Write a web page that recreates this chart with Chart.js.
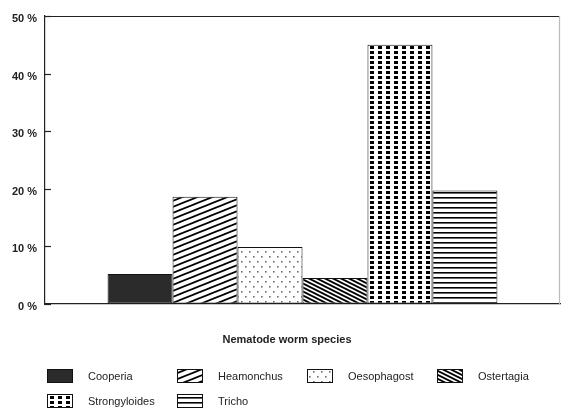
<!DOCTYPE html>
<html>
<head>
<meta charset="utf-8">
<script src="https://cdn.jsdelivr.net/npm/chart.js@4"></script>
<style>
  html, body { margin: 0; padding: 0; background: #fff; }
  #wrap { width: 561px; height: 408px; }
</style>
</head>
<body>
<div id="wrap"><canvas id="chart" width="561" height="408"></canvas></div>
<script>
const species = ["Cooperia", "Heamonchus", "Oesophagost", "Ostertagia", "Strongyloides", "Tricho"];
const shares = [5.2, 18.6, 9.9, 4.5, 45.0, 19.7];
const yTicks = [0, 10, 20, 30, 40, 50];
const xTitle = "Nematode worm species";

function makePattern(w, h, draw) {
  const c = document.createElement("canvas");
  c.width = w;
  c.height = h;
  const g = c.getContext("2d");
  g.fillStyle = "#fff";
  g.fillRect(0, 0, w, h);
  draw(g);
  return g.createPattern(c, "repeat");
}

function slanted(w, h, rise, width) {
  // lines crossing the tile, wrapping at the edges
  return makePattern(w, h, (g) => {
    g.strokeStyle = "#000";
    g.lineWidth = width;
    for (let k = -1; k <= 2; k++) {
      g.beginPath();
      if (rise) {
        g.moveTo(-2, h * k + (2 * h) / w);
        g.lineTo(w + 2, h * k - h - (2 * h) / w);
      } else {
        g.moveTo(-2, h * k - (2 * h) / w);
        g.lineTo(w + 2, h * k + h + (2 * h) / w);
      }
      g.stroke();
    }
  });
}

const fills = [
  "#2b2b2b",
  slanted(15, 6, true, 1.7),
  makePattern(8, 10, (g) => {
    g.fillStyle = "#6e6e6e";
    g.fillRect(1, 1, 1.6, 1.6);
    g.fillRect(5, 6, 1.6, 1.6);
  }),
  slanted(8, 4, false, 1.9),
  makePattern(8, 5, (g) => {
    g.fillStyle = "#000";
    g.fillRect(2, 1, 4, 3);
  }),
  makePattern(4, 5, (g) => {
    g.fillStyle = "#000";
    g.fillRect(0, 2, 4, 1.6);
  }),
];

const frameAndTicks = {
  id: "frameAndTicks",
  afterDraw(chart) {
    const ctx = chart.ctx;
    const a = chart.chartArea;
    const y = chart.scales.y;
    ctx.save();
    ctx.strokeStyle = "#222";
    ctx.lineWidth = 1.2;
    ctx.beginPath();
    ctx.moveTo(a.left, a.top + 0.5);
    ctx.lineTo(a.right, a.top + 0.5);
    ctx.stroke();
    ctx.strokeStyle = "#bbb";
    ctx.beginPath();
    ctx.moveTo(a.right - 0.5, a.top);
    ctx.lineTo(a.right - 0.5, a.bottom);
    ctx.stroke();
    // inward tick marks on the y axis
    ctx.strokeStyle = "#222";
    yTicks.forEach((v) => {
      const py = Math.round(y.getPixelForValue(v)) + 0.5;
      ctx.beginPath();
      ctx.moveTo(a.left, py);
      ctx.lineTo(a.left + 6, py);
      ctx.stroke();
    });

    // axis title
    ctx.fillStyle = "#222";
    ctx.font = "bold 11px 'Liberation Sans', Arial, sans-serif";
    ctx.textAlign = "center";
    ctx.textBaseline = "middle";
    ctx.fillText(xTitle, 287, 340);

    // legend grid, four columns
    ctx.font = "11px 'Liberation Sans', Arial, sans-serif";
    ctx.textAlign = "left";
    chart.data.datasets.forEach((ds, i) => {
      const bx = 47 + (i % 4) * 130;
      const by = 369 + Math.floor(i / 4) * 25;
      ctx.fillStyle = ds.backgroundColor;
      ctx.fillRect(bx, by, 25, 13);
      ctx.strokeStyle = "#111";
      ctx.lineWidth = 1;
      ctx.strokeRect(bx + 0.5, by + 0.5, 25, 13);
      ctx.fillStyle = "#222";
      ctx.fillText(ds.label, bx + 41, by + 7.5);
    });
    ctx.restore();
  },
};

new Chart(document.getElementById("chart"), {
  type: "bar",
  data: {
    labels: [""],
    datasets: species.map((name, i) => ({
      label: name,
      data: [shares[i]],
      backgroundColor: fills[i],
      borderColor: "#111",
      borderWidth: 1,
      borderSkipped: false,
      barPercentage: 1,
      categoryPercentage: 0.757,
    })),
  },
  options: {
    responsive: false,
    animation: false,
    layout: { padding: { left: 0, right: 1, top: 16, bottom: 104 } },
    plugins: {
      legend: { display: false },
      tooltip: { enabled: false },
    },
    scales: {
      x: {
        grid: { display: false },
        ticks: { display: false },
        border: { display: true, color: "#222", width: 1.2 },
        afterFit: (scale) => {
          scale.height = 0;
        },
      },
      y: {
        min: 0,
        max: 50,
        afterBuildTicks: (scale) => {
          scale.ticks = yTicks.map((v) => ({ value: v }));
        },
        grid: { drawOnChartArea: false, drawTicks: false },
        border: { display: true, color: "#222", width: 1.2 },
        ticks: {
          padding: 8,
          labelOffset: 3,
          color: "#222",
          font: { family: "'Liberation Sans', Arial, sans-serif", size: 11, weight: "bold" },
          callback: (v) => v + " %",
        },
        afterFit: (scale) => {
          scale.width = 45;
        },
      },
    },
  },
  plugins: [frameAndTicks],
});
</script>
</body>
</html>
